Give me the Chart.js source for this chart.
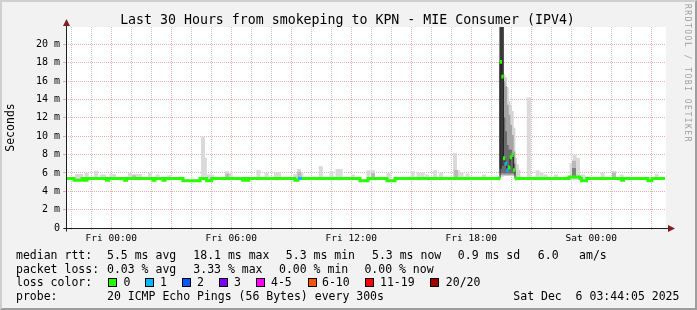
<!DOCTYPE html>
<html>
<head>
<meta charset="utf-8">
<script src="https://cdn.jsdelivr.net/npm/chart.js@4.4.1/dist/chart.umd.min.js"></script>
<style>
html, body { margin: 0; padding: 0; background: #f2f2f2; }
#frame { position: relative; width: 697px; height: 310px; background: #f2f2f2; overflow: hidden;
         font-family: "DejaVu Sans Mono", monospace; color: #000; }
#frame canvas { position: absolute; left: 0; top: 0; }
#edge { position: absolute; left: 0; top: 0; width: 697px; height: 310px; box-sizing: border-box;
        border: 2px solid; border-color: #cfcfcf #9e9e9e #9e9e9e #cfcfcf; }
#title { position: absolute; left: -1px; top: 10.6px; width: 697px; text-align: center;
         font-size: 13.25px; line-height: 18px; white-space: pre; }
#wm { position: absolute; left: 683px; top: 4px; writing-mode: vertical-rl; font-size: 8px;
      line-height: 9px; letter-spacing: 1.5px; color: #a0a0a0; white-space: pre; }
.t { position: absolute; font-size: 11.5px; line-height: 14px; white-space: pre; }
.box { position: absolute; width: 7px; height: 7px; border: 1px solid #000; }
</style>
</head>
<body>
<div id="frame">
  <canvas id="chart" width="697" height="310"></canvas>
  <div id="edge"></div>
  <div id="title">Last 30 Hours from smokeping to KPN - MIE Consumer (IPV4)</div>
  <div id="wm">RRDTOOL / TOBI OETIKER</div>
  <div id="legend"></div>
</div>
<script>
// time axis: hours since Thu 21:44:05, 30 hour window
const firstFullHour = 0.2653;   // 22:00
const xTickHours = [2.2653, 8.2653, 14.2653, 20.2653, 26.2653];
const xTickLabels = ['Fri 00:00', 'Fri 06:00', 'Fri 12:00', 'Fri 18:00', 'Sat 00:00'];
const yTickValues = [0, 2, 4, 6, 8, 10, 12, 14, 16, 18, 20];
const yTickLabels = ['0', '2 m', '4 m', '6 m', '8 m', '10 m', '12 m', '14 m', '16 m', '18 m', '20 m'];

// median rtt (ms), change points, value holds until next time; null = gap
const medianTimes = [0.00, 0.40, 0.80, 0.93, 1.05, 2.03, 2.13, 2.93, 3.03, 4.35, 4.45, 4.85, 4.95,
  5.85, 6.70, 7.03, 7.28, 8.83, 8.90, 9.03, 9.13, 11.45, 11.60, 11.80, 14.70, 15.10, 16.05, 16.45,
  21.70, 21.70, 22.45, 25.15, 25.70, 25.78, 26.03, 27.78, 27.88, 29.10, 29.30, 29.95];
const medianValues = [5.4, 5.2, 5.4, 5.2, 5.4, 5.2, 5.4, 5.2, 5.4, 5.2, 5.4, 5.2, 5.4,
  5.15, 5.4, 5.15, 5.4, 5.2, 5.4, 5.2, 5.4, 5.2, 5.4, 5.4, 5.15, 5.4, 5.15, 5.4,
  5.4, null, 5.4, 5.55, 5.4, 5.15, 5.4, 5.2, 5.4, 5.15, 5.4, 5.4];
const medianLoss = [0, 0, 0, 0, 0, 0, 0, 0, 0, 0, 0, 0, 0,
  0, 0, 0, 0, 0, 0, 0, 0, 0, 1, 0, 0, 0, 0, 0,
  0, 0, 0, 0, 0, 0, 0, 0, 0, 0, 0, 0];

// the spike around Fri 19:30, 5 minute steps
const spikeTimes = [21.658, 21.742, 21.825, 21.908, 21.992, 22.075, 22.158, 22.242, 22.325, 22.408, 22.492];
const spikeMedian = [5.4, 18.1, 16.5, 7.6, 7.0, 6.3, 6.6, 7.7, 7.95, 6.3, 5.4];
const spikeLoss = [0, 0, 0, 0, 1, 1, 0, 0, 0, 0, 0];

const spikeSmokeTimes = [21.742, 21.825, 21.908, 21.992, 22.075, 22.158, 22.242, 22.325, 22.408, 22.492, 22.575, 22.658];
const spikeLight = [[5.6, 25], [5.6, 25], [5.7, 16.7], [5.7, 16.4], [5.7, 15.3], [5.7, 13.8], [5.7, 13.4], [5.7, 12.7], [5.7, 10.9], [5.5, 7.6], [5.5, 6.9], [5.4, 6.3]];
const spikeMid = [[5.8, 25], [5.8, 25], [5.8, 16.0], [5.8, 15.4], [5.8, 13.4], [5.8, 12.3], [5.8, 11.2], [5.8, 10.1], [5.8, 8.3], null, null, null];
const spikeDark = [[6.0, 25], [6.0, 25], [6.0, 12.0], [6.0, 10.5], [6.0, 9.0], [6.0, 8.5], [6.0, 8.5], [6.0, 8.0], [6.0, 7.0], null, null, null];
const spikeDarkest = [[6.5, 25], [6.8, 25], null, null, null, null, null, null, null, null, null, null];

// smoke (ping spread) elsewhere, 10 minute steps
const smokeFloor = 5.25;
const smokeTimes = [0.55, 0.75, 1.03, 1.51, 1.78, 1.90, 2.28, 2.40, 3.20, 3.38, 3.55, 3.70, 4.20, 4.58, 5.15,
  6.85, 6.94, 7.13, 7.30, 8.05, 8.23, 9.62, 10.03, 10.50, 10.65, 11.45, 11.65, 11.77, 12.74, 13.28, 13.58,
  13.73, 14.35, 15.12, 15.35, 16.13, 17.33, 17.63, 17.83, 18.05, 18.45, 18.75, 19.45, 19.60, 19.78, 20.08,
  20.90, 23.14, 23.58, 23.78, 23.98, 24.50, 25.28, 25.43, 25.60, 25.87, 26.83, 27.40, 27.78, 29.53];
const smokeHigh = [5.85, 5.85, 6.0, 6.2, 5.8, 5.8, 5.85, 5.85, 5.95, 5.85, 5.85, 5.85, 6.0, 5.8, 5.7,
  9.9, 7.65, 5.8, 5.8, 6.15, 5.9, 6.3, 5.95, 6.0, 6.0, 5.85, 6.4, 5.95, 6.7, 6.15, 6.4,
  6.4, 5.8, 6.25, 6.25, 5.95, 6.15, 6.0, 6.0, 5.8, 6.25, 6.0, 8.15, 6.25, 6.0, 5.9,
  5.8, 14.2, 6.25, 6.0, 5.8, 5.8, 7.05, 7.95, 7.6, 5.8, 6.0, 6.2, 5.8, 5.85];
const smokeMidFloor = 5.45;
const smokeMidTimes = [3.40, 8.07, 11.67, 15.35, 19.50, 25.40, 27.40];
const smokeMidHigh = [5.7, 5.9, 6.1, 5.95, 6.3, 7.3, 6.0];
const smokeDarkTimes = [25.40];
const smokeDarkRange = [[5.6, 6.5]];

const lossLabels = ['0', '1', '2', '3', '4-5', '6-10', '11-19', '20/20'];
const lossColors = ['#26ff00', '#00b8ff', '#0059ff', '#7e00ff', '#ff00ff', '#ff5500', '#ff0000', '#a10000'];

const FONT = 'DejaVu Sans Mono';
const GRID = 'rgba(143,143,143,0.5)';
const MGRID = 'rgba(222,79,79,0.45)';

function rangeBars(times, ranges, color, thickness, order) {
  return {
    type: 'bar',
    data: times.map((t, i) => ({ x: t, y: ranges[i] })),
    backgroundColor: color,
    borderWidth: 0,
    barThickness: thickness,
    grouped: false,
    order: order
  };
}

const datasets = [
  rangeBars(smokeTimes, smokeHigh.map(h => [smokeFloor, h]), '#dadada', 3.4, 9),
  rangeBars(smokeMidTimes, smokeMidHigh.map(h => [smokeMidFloor, h]), '#b9b9b9', 3.4, 8),
  rangeBars(smokeDarkTimes, smokeDarkRange, '#808080', 3.4, 7),
  rangeBars(spikeSmokeTimes, spikeLight, '#d4d4d4', 1.7, 9),
  rangeBars(spikeSmokeTimes, spikeMid, '#a4a4a4', 1.7, 8),
  rangeBars(spikeSmokeTimes, spikeDark, '#6c6c6c', 1.7, 7),
  rangeBars(spikeSmokeTimes, spikeDarkest, '#3a3a3a', 1.7, 6),
  {
    type: 'line',
    data: spikeTimes.map((t, i) => ({ x: t, y: spikeMedian[i] })),
    borderColor: '#202020',
    borderWidth: 1,
    stepped: 'middle',
    pointRadius: 0,
    order: 3
  },
  {
    type: 'line',
    data: medianTimes.map((t, i) => ({ x: t, y: medianValues[i] })),
    borderColor: lossColors[0],
    borderWidth: 3,
    borderCapStyle: 'butt',
    stepped: 'before',
    spanGaps: false,
    pointRadius: 0,
    segment: { borderColor: c => lossColors[medianLoss[c.p0DataIndex]] },
    order: 2
  },
  {
    type: 'bar',
    data: spikeTimes.map((t, i) => ({ x: t, y: [spikeMedian[i] - 0.17, spikeMedian[i] + 0.17] })),
    backgroundColor: spikeLoss.map(l => lossColors[l]),
    borderWidth: 0,
    barThickness: 1.7,
    grouped: false,
    order: 0
  }
];

function hourOfDay(v) { return (22 + Math.round(v - firstFullHour)) % 24; }
function xGridColor(c) { return c.tick && hourOfDay(c.tick.value) % 3 === 0 ? MGRID : GRID; }
function yGridColor(c) { return c.tick && c.tick.value % 2 === 0 ? MGRID : GRID; }

const framePlugin = {
  id: 'frame',
  beforeDraw(chart) {
    const { ctx, chartArea: a } = chart;
    ctx.save();
    ctx.fillStyle = '#ffffff';
    ctx.fillRect(a.left, a.top, a.right - a.left, a.bottom - a.top);
    ctx.restore();
  },
  afterDraw(chart) {
    const { ctx, chartArea: a } = chart;
    const x0 = Math.round(a.left) + 0.5, y0 = Math.round(a.bottom) + 0.5;
    ctx.save();
    ctx.strokeStyle = '#1f1f1f';
    ctx.lineWidth = 1;
    ctx.beginPath();
    ctx.moveTo(x0, y0 + 3); ctx.lineTo(x0, a.top - 2);
    ctx.moveTo(x0 - 3, y0); ctx.lineTo(a.right + 3, y0);
    ctx.stroke();
    ctx.fillStyle = '#801f1f';
    ctx.beginPath();
    ctx.moveTo(x0 - 3.5, a.top - 1); ctx.lineTo(x0 + 3.5, a.top - 1); ctx.lineTo(x0, a.top - 8);
    ctx.closePath(); ctx.fill();
    ctx.beginPath();
    ctx.moveTo(a.right + 2, y0 - 3.5); ctx.lineTo(a.right + 2, y0 + 3.5); ctx.lineTo(a.right + 9, y0);
    ctx.closePath(); ctx.fill();
    ctx.restore();
  }
};

new Chart(document.getElementById('chart'), {
  type: 'line',
  data: { datasets: datasets },
  plugins: [framePlugin],
  options: {
    responsive: false,
    animation: false,
    devicePixelRatio: 1,
    events: [],
    layout: { padding: { top: 27, right: 31, bottom: 0, left: 0 } },
    plugins: { legend: { display: false }, tooltip: { enabled: false } },
    scales: {
      x: {
        type: 'linear',
        min: 0,
        max: 30,
        offset: false,
        afterFit: s => { s.height = 82; },
        afterBuildTicks: s => {
          const ticks = [];
          for (let k = 0; firstFullHour + k < 30; k++) ticks.push({ value: firstFullHour + k });
          s.ticks = ticks;
        },
        ticks: {
          autoSkip: false,
          maxRotation: 0,
          padding: 3,
          color: '#000',
          font: { family: FONT, size: 9.5 },
          callback: v => {
            const i = xTickHours.findIndex(h => Math.abs(h - v) < 0.01);
            return i >= 0 ? xTickLabels[i] : '';
          }
        },
        grid: { offset: false, color: xGridColor, tickColor: xGridColor, tickLength: 2, lineWidth: 1 },
        border: { display: false, color: GRID, dash: [1, 1] }
      },
      y: {
        type: 'linear',
        min: 0,
        max: 21.9,
        afterFit: s => { s.width = 66; },
        afterBuildTicks: s => {
          const ticks = [];
          for (let v = 0; v <= 21; v++) ticks.push({ value: v });
          s.ticks = ticks;
        },
        ticks: {
          padding: 3,
          color: '#000',
          font: { family: FONT, size: 10 },
          callback: v => {
            const i = yTickValues.indexOf(v);
            return i >= 0 ? yTickLabels[i] : '';
          }
        },
        grid: { color: yGridColor, tickColor: yGridColor, tickLength: 3, lineWidth: 1 },
        border: { display: false, color: GRID, dash: [1, 1] },
        title: {
          display: true,
          text: 'Seconds',
          color: '#000',
          font: { family: FONT, size: 11.5 },
          padding: { top: 4, bottom: 0 }
        }
      }
    }
  }
});

// legend below the graph
const rowY = [255, 268.7, 282.4, 296];
const legendRows = [
  [[16, 'median rtt:'], [107, '5.5 ms avg'], [193.3, '18.1 ms max'], [285.8, '5.3 ms min'],
   [372, '5.3 ms now'], [457.8, '0.9 ms sd'], [537.8, '6.0'], [579.1, 'am/s']],
  [[16, 'packet loss:'], [107, '0.03 % avg'], [193.3, '3.33 % max'], [279, '0.00 % min'], [364.4, '0.00 % now']],
  [[16, 'loss color:']],
  [[16, 'probe:'], [107, '20 ICMP Echo Pings (56 Bytes) every 300s'], [513.3, 'Sat Dec  6 03:44:05 2025']]
];
const lossBoxX = [108, 145.3, 182.2, 219, 256, 307.6, 365.3, 430.2];
const lossTextX = [123.6, 160, 197, 234, 271, 322, 380, 445.8];

const legend = document.getElementById('legend');
function addText(x, y, s) {
  const el = document.createElement('div');
  el.className = 't';
  el.style.left = x + 'px';
  el.style.top = (y - 7) + 'px';
  el.textContent = s;
  legend.appendChild(el);
}
legendRows.forEach((row, r) => row.forEach(([x, s]) => addText(x, rowY[r], s)));
lossLabels.forEach((lab, i) => {
  const b = document.createElement('div');
  b.className = 'box';
  b.style.left = lossBoxX[i] + 'px';
  b.style.top = (rowY[2] - 4.5) + 'px';
  b.style.background = lossColors[i];
  legend.appendChild(b);
  addText(lossTextX[i], rowY[2], lab);
});
</script>
</body>
</html>
